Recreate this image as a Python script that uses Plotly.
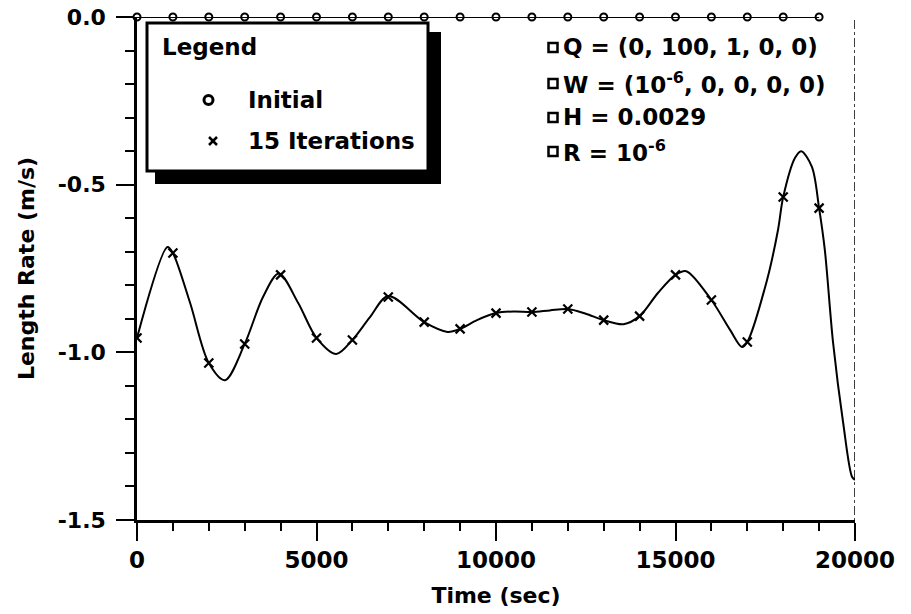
import plotly.graph_objects as go

# ---- data ----
initial_t = [0, 1000, 2000, 3000, 4000, 5000, 6000, 7000, 8000, 9000,
             10000, 11000, 12000, 13000, 14000, 15000, 16000, 17000, 18000, 19000]
initial_v = [0.0] * 20

iter_t = [0, 1000, 2000, 3000, 4000, 5000, 6000, 7000, 8000, 9000,
          10000, 11000, 12000, 13000, 14000, 15000, 16000, 17000, 18000, 19000]
iter_v = [-0.957, -0.704, -1.032, -0.975, -0.769, -0.957, -0.963, -0.835, -0.910, -0.930,
          -0.883, -0.880, -0.871, -0.904, -0.892, -0.769, -0.844, -0.969, -0.537, -0.570]

curve_t = [0, 850, 1000, 1480, 2000, 2450, 3000, 3510, 3950, 4490, 5000, 5550, 6000,
           6490, 7000, 8000, 8650, 9000, 9470, 10000, 10500, 11000, 11500, 12000, 12500,
           13000, 13550, 14000, 14510, 15000, 15300, 16000, 16520, 16850, 17000, 17550,
           17855, 18000, 18330, 18500, 18800, 19000, 19160, 19390, 19670, 19920, 20000]
curve_v = [-0.957, -0.686, -0.704, -0.853, -1.032, -1.083, -0.975, -0.835, -0.765,
           -0.853, -0.957, -1.005, -0.963, -0.895, -0.832, -0.910, -0.939, -0.930, -0.904,
           -0.883, -0.878, -0.880, -0.875, -0.871, -0.885, -0.904, -0.916, -0.892, -0.823,
           -0.769, -0.758, -0.844, -0.933, -0.984, -0.969, -0.784, -0.635, -0.537, -0.420,
           -0.400, -0.447, -0.570, -0.695, -0.972, -1.210, -1.372, -1.380]

x_tickvals = [0, 5000, 10000, 15000, 20000]
x_ticktext = ["0", "5000", "10000", "15000", "20000"]
y_tickvals = [0.0, -0.5, -1.0, -1.5]
y_ticktext = ["0.0", "-0.5", "-1.0", "-1.5"]

legend_names = ["Initial", "15 Iterations"]
param_lines = ["Q = (0, 100, 1, 0, 0)",
               "W = (10<sup>-6</sup>, 0, 0, 0, 0)",
               "H = 0.0029",
               "R = 10<sup>-6</sup>"]

FONT = "DejaVu Sans"
W, H = 911, 614
L, R, T, B = 137, 56, 17, 94
PW, PH = W - L - R, H - T - B


def px(X):
    return (X - L) / PW


def py(Y):
    return (H - B - Y) / PH


def bold(size):
    return dict(family=FONT, size=size, color="black", weight="bold")


fig = go.Figure()

fig.add_trace(go.Scatter(x=curve_t, y=curve_v, mode="lines",
                         line=dict(color="black", width=2, shape="spline", smoothing=0.9),
                         showlegend=False, hoverinfo="skip"))
fig.add_trace(go.Scatter(x=iter_t, y=iter_v, mode="markers", name=legend_names[1],
                         marker=dict(symbol="x-thin-open", size=9, color="black",
                                     line=dict(color="black", width=2.2)),
                         showlegend=False))
fig.add_trace(go.Scatter(x=initial_t, y=initial_v, mode="lines+markers", name=legend_names[0],
                         line=dict(color="black", width=2),
                         marker=dict(symbol="circle-open", size=7, color="black",
                                     line=dict(color="black", width=2)),
                         cliponaxis=False, showlegend=False))

shapes = []
# dash-dot right boundary
shapes.append(dict(type="line", xref="x", yref="paper", x0=20000, x1=20000, y0=py(533), y1=py(17),
                   line=dict(color="black", width=1.5, dash="dashdot")))
# legend shadow + box
shapes.append(dict(type="rect", xref="paper", yref="paper", x0=px(155), x1=px(441), y0=py(184), y1=py(32),
                   fillcolor="black", line=dict(width=0)))
shapes.append(dict(type="rect", xref="paper", yref="paper", x0=px(147), x1=px(428), y0=py(171), y1=py(23),
                   fillcolor="white", line=dict(color="black", width=3)))
# legend symbols
shapes.append(dict(type="circle", xref="paper", yref="paper", x0=px(204), x1=px(213), y0=py(104.5), y1=py(95.5),
                   line=dict(color="black", width=3)))
shapes.append(dict(type="line", xref="paper", yref="paper", x0=px(209), x1=px(217), y0=py(137), y1=py(145),
                   line=dict(color="black", width=2.5)))
shapes.append(dict(type="line", xref="paper", yref="paper", x0=px(209), x1=px(217), y0=py(145), y1=py(137),
                   line=dict(color="black", width=2.5)))

annotations = []


def label(text, X, Y, size=23):
    annotations.append(dict(text=text, xref="paper", yref="paper", x=px(X), y=py(Y),
                            xanchor="left", yanchor="middle", showarrow=False,
                            font=bold(size)))


label("Legend", 160, 47)
label(legend_names[0], 246, 100)
label(legend_names[1], 246, 141)

rows_y = [47, 83, 117, 151]
for txt, Y in zip(param_lines, rows_y):
    shapes.append(dict(type="rect", xref="paper", yref="paper", x0=px(548.5), x1=px(557.5),
                       y0=py(Y + 5), y1=py(Y - 4), line=dict(color="black", width=2.5)))
    label(txt, 561, Y, size=23)

fig.update_layout(
    width=W, height=H,
    margin=dict(l=L, r=R, t=T, b=B, pad=0, autoexpand=False),
    paper_bgcolor="white", plot_bgcolor="white",
    font=bold(23),
    shapes=shapes, annotations=annotations,
    showlegend=False,
)
fig.update_xaxes(range=[0, 20000], showgrid=False, zeroline=False, automargin=False,
                 showline=True, linecolor="black", linewidth=2.5,
                 ticks="outside", ticklen=18, tickwidth=2, tickcolor="black",
                 tickvals=x_tickvals, ticktext=x_ticktext,
                 tickfont=bold(23),
                 minor=dict(dtick=1000, ticks="outside", ticklen=8, tickwidth=2, tickcolor="black"),
                 title=dict(text="Time (sec)", font=bold(22), standoff=16))
fig.update_yaxes(range=[-1.5, 0], showgrid=False, zeroline=False, automargin=False,
                 showline=True, linecolor="black", linewidth=2.5,
                 ticks="outside", ticklen=18, tickwidth=2, tickcolor="black",
                 tickvals=y_tickvals, ticktext=y_ticktext,
                 ticklabelstandoff=6,
                 tickfont=bold(22),
                 minor=dict(dtick=0.1, ticks="outside", ticklen=9, tickwidth=2, tickcolor="black"),
                 title=dict(text="Length Rate (m/s)", font=bold(22), standoff=18))

fig.write_html("out.html")
